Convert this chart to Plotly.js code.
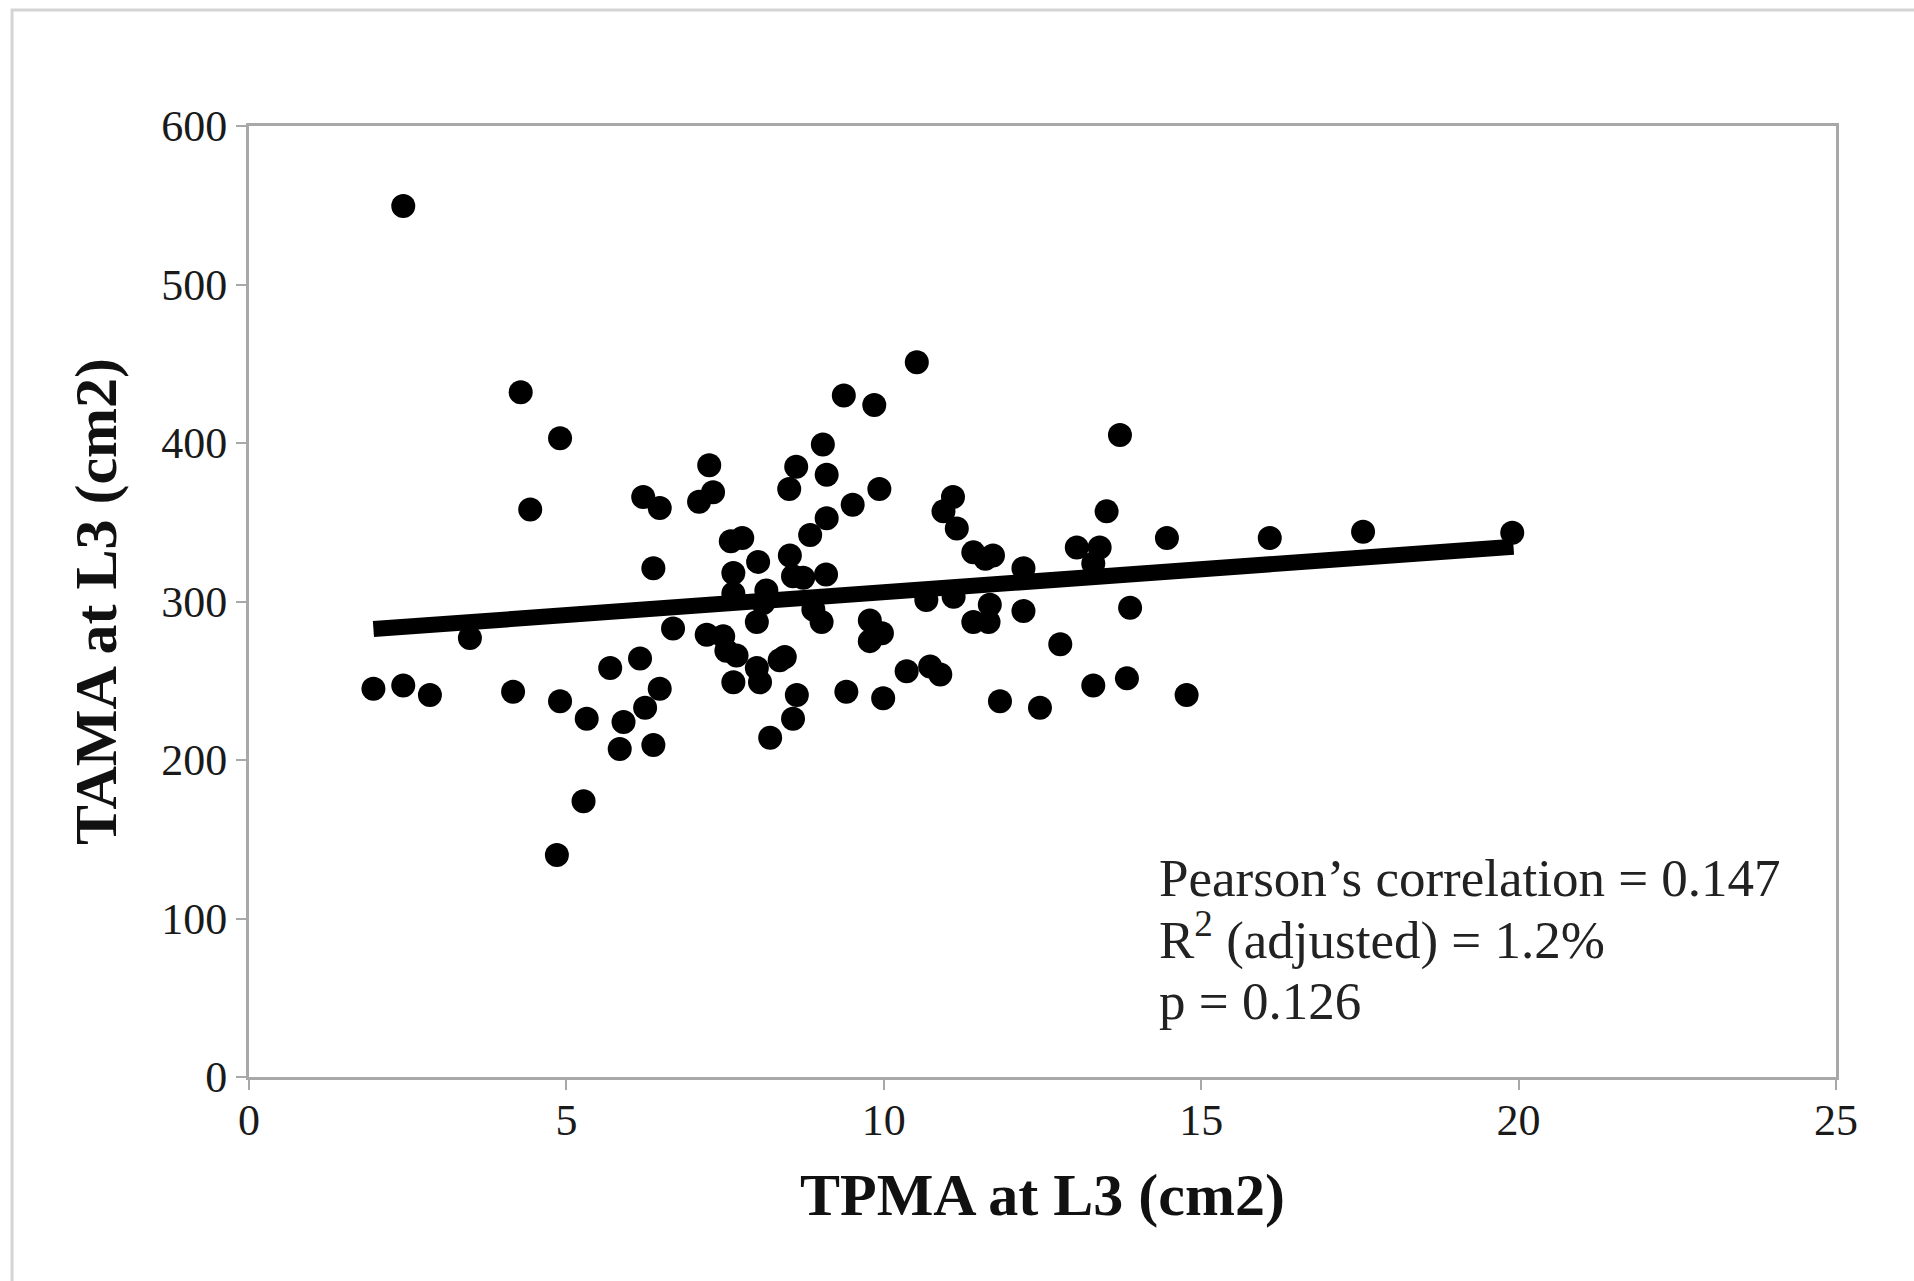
<!DOCTYPE html>
<html>
<head>
<meta charset="utf-8">
<script src="https://cdn.plot.ly/plotly-3.0.1.min.js"></script>
<style>
  html, body { margin: 0; padding: 0; background: #ffffff; }
  #chart { width: 1914px; height: 1281px; }
</style>
</head>
<body>
<div id="chart"></div>
<script>
// TPMA at L3 (cm2)
const tpma = [
  2.43, 1.96, 2.43, 2.85, 3.48, 4.16, 4.28, 4.43, 4.90, 4.90,
  4.85, 5.27, 5.32, 5.69, 5.84, 5.90, 6.16, 6.24, 6.21, 6.37,
  6.37, 6.47, 6.47, 6.68, 7.09, 7.25, 7.31, 7.21, 7.47, 7.52,
  7.68, 7.63, 7.59, 7.77, 7.63, 7.63, 8.02, 8.10, 8.00, 8.00,
  8.05, 8.15, 8.21, 8.36, 8.44, 8.51, 8.62, 8.52, 8.57, 8.73,
  8.63, 8.57, 8.84, 8.89, 9.04, 9.10, 9.10, 9.09, 9.02, 9.37,
  9.51, 9.41, 9.85, 9.93, 9.78, 9.97, 9.78, 9.99, 10.36, 10.52,
  10.67, 10.73, 10.89, 10.94, 11.09, 11.15, 11.10, 11.41, 11.41, 11.60,
  11.72, 11.67, 11.65, 11.83, 12.20, 12.20, 12.46, 12.78, 13.04, 13.40,
  13.30, 13.30, 13.51, 13.72, 13.83, 13.88, 14.46, 14.77, 16.08, 17.55,
  19.90
];
// TAMA at L3 (cm2)
const tama = [
  549.5, 245, 247, 241, 277, 243, 432, 358, 403, 237,
  140, 174, 226, 258, 207, 224, 264, 233, 366, 321,
  209.5, 359, 245, 283, 363, 386, 369, 279, 278, 269,
  266, 249, 338, 340, 318, 305, 325, 299, 287, 258,
  249, 307, 214, 263, 265, 371, 385, 329, 316, 315,
  241, 226, 342, 295, 399, 380, 352.5, 317, 287, 430,
  361, 243, 424, 371, 288, 280, 275, 239, 256, 451,
  301, 259, 254, 357, 366, 346, 303, 331, 287, 327,
  329, 298, 287, 237, 321, 294, 233, 273, 334, 334,
  324, 247, 357, 405, 251.5, 296, 340, 241, 340, 344,
  343.4
];
// Fitted regression line end points
const fitX = [1.96, 19.92];
const fitY = [282.6, 334.6];

const xTicks = [0, 5, 10, 15, 20, 25];
const yTicks = [0, 100, 200, 300, 400, 500, 600];

const statLines = [
  "Pearson\u2019s correlation = 0.147",
  "R<sup>2</sup> (adjusted) = 1.2%",
  "p = 0.126"
];
const statY = [125.5, 88.5, 47.9];

const serif = "Liberation Serif, Times New Roman, serif";
const axisGray = "#a8a8a8";

const traces = [
  {
    x: tpma, y: tama, type: "scatter", mode: "markers",
    marker: { color: "#000000", size: 24 },
    hoverinfo: "x+y", showlegend: false
  },
  {
    x: fitX, y: fitY, type: "scatter", mode: "lines",
    line: { color: "#000000", width: 16 },
    hoverinfo: "skip", showlegend: false
  }
];

const layout = {
  width: 1914, height: 1281,
  margin: { l: 249, r: 78, t: 126, b: 204 },
  paper_bgcolor: "#ffffff", plot_bgcolor: "#ffffff",
  font: { family: serif, color: "#1a1a1a" },
  showlegend: false,
  xaxis: {
    range: [0, 25], tickvals: xTicks, ticktext: xTicks.map(String),
    showgrid: false, zeroline: false,
    showline: true, linecolor: axisGray, linewidth: 3, mirror: true,
    ticks: "outside", ticklen: 10, tickwidth: 2, tickcolor: axisGray,
    ticklabelstandoff: -8,
    tickfont: { family: serif, size: 44, color: "#1a1a1a" },
    title: { text: "<b>TPMA at L3 (cm2)</b>", font: { family: serif, size: 60, color: "#111111" }, standoff: 30 },
    automargin: false, fixedrange: true
  },
  yaxis: {
    range: [0, 600], tickvals: yTicks, ticktext: yTicks.map(String),
    showgrid: false, zeroline: false,
    showline: true, linecolor: axisGray, linewidth: 3, mirror: true,
    ticks: "outside", ticklen: 10, tickwidth: 2, tickcolor: axisGray,
    tickfont: { family: serif, size: 44, color: "#1a1a1a" },
    title: { text: "<b>TAMA at L3 (cm2)</b>", font: { family: serif, size: 60, color: "#111111" }, standoff: 26 },
    automargin: false, fixedrange: true
  },
  annotations: statLines.map((t, i) => ({
    xref: "x", yref: "y", x: 14.3, y: statY[i],
    xanchor: "left", yanchor: "middle", align: "left",
    showarrow: false, text: t,
    font: { family: serif, size: 53, color: "#222222" }
  })),
  shapes: [
    {
      type: "path", xref: "paper", yref: "paper",
      path: "M -0.1493,-0.3 L -0.1493,1.122 L 1.1,1.122",
      line: { color: "#d4d4d4", width: 3 }
    }
  ]
};

Plotly.newPlot("chart", traces, layout, { displayModeBar: false, staticPlot: true });
</script>
</body>
</html>
